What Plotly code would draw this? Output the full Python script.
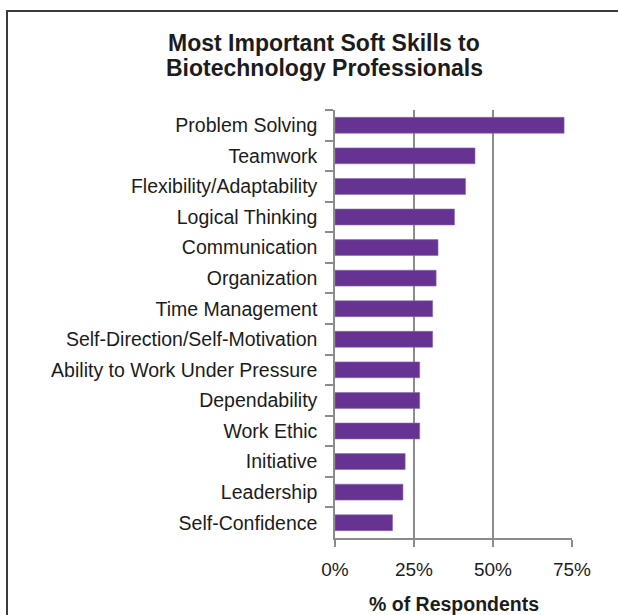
import plotly.graph_objects as go

# Survey results: share of respondents naming each soft skill
skills = [
    "Problem Solving",
    "Teamwork",
    "Flexibility/Adaptability",
    "Logical Thinking",
    "Communication",
    "Organization",
    "Time Management",
    "Self-Direction/Self-Motivation",
    "Ability to Work Under Pressure",
    "Dependability",
    "Work Ethic",
    "Initiative",
    "Leadership",
    "Self-Confidence",
]
share = [0.725, 0.443, 0.413, 0.378, 0.326, 0.320, 0.309, 0.309,
         0.268, 0.268, 0.268, 0.222, 0.215, 0.182]

x_ticks = [0, 0.25, 0.5, 0.75]
x_tick_text = ["0%", "25%", "50%", "75%"]

title_lines = ["Most Important Soft Skills to", "Biotechnology Professionals"]
x_title = "% of Respondents"

W, H = 618, 615
L, R, T, B = 335, 46, 110, 77
pw, ph = W - L - R, H - T - B

font_family = "Liberation Sans, Arial, sans-serif"
text_color = "#1c1c1c"
grid_color = "#8c8c8c"


def px_x(px):
    """Horizontal pixel position -> paper coordinate."""
    return (px - L) / pw


def px_y(py):
    """Vertical pixel position (from top) -> paper coordinate."""
    return ((H - B) - py) / ph


fig = go.Figure(
    go.Bar(
        x=share,
        y=skills,
        orientation="h",
        marker=dict(color="#663392", line=dict(color="#8a6ab3", width=0.6)),
        width=0.52,
        hoverinfo="x+y",
    )
)

annotations = []
# two-line heading, set tighter than the default line spacing
for text, cy in zip(title_lines, [43.5, 68.5]):
    annotations.append(
        dict(
            text=f"<b>{text}</b>",
            x=px_x(324),
            xref="paper",
            xanchor="center",
            y=px_y(cy),
            yref="paper",
            yanchor="middle",
            showarrow=False,
            font=dict(size=23, family=font_family, color=text_color),
        )
    )
annotations.append(
    dict(
        text=f"<b>{x_title}</b>",
        x=0.5,
        xref="paper",
        xanchor="center",
        y=px_y(604),
        yref="paper",
        yanchor="middle",
        showarrow=False,
        font=dict(size=19.5, family=font_family, color=text_color),
    )
)

fig.update_layout(
    width=W,
    height=H,
    margin=dict(l=L, r=R, t=T, b=B, pad=0),
    paper_bgcolor="white",
    plot_bgcolor="white",
    showlegend=False,
    font=dict(family=font_family, color=text_color, size=19),
    xaxis=dict(
        range=[0, 0.75],
        tickvals=x_ticks,
        ticktext=x_tick_text,
        showgrid=True,
        gridcolor=grid_color,
        gridwidth=1.5,
        zeroline=False,
        showline=True,
        linecolor=grid_color,
        linewidth=1.5,
        ticks="outside",
        ticklen=7,
        tickwidth=1.5,
        tickcolor=grid_color,
        ticklabelstandoff=6,
        tickfont=dict(size=19),
        fixedrange=True,
    ),
    yaxis=dict(
        autorange="reversed",
        showgrid=False,
        zeroline=False,
        showline=True,
        linecolor=grid_color,
        linewidth=1.5,
        ticks="outside",
        tickson="boundaries",
        ticklen=8,
        tickwidth=1.5,
        tickcolor=grid_color,
        ticklabelstandoff=12,
        tickfont=dict(size=19.5),
        fixedrange=True,
    ),
    annotations=annotations,
    shapes=[
        # outer chart frame, running off the right and bottom edges
        dict(
            type="rect",
            xref="paper",
            yref="paper",
            x0=px_x(7),
            x1=px_x(W + 10),
            y0=px_y(H + 10),
            y1=px_y(11),
            line=dict(color="#3a3a3a", width=2),
            fillcolor="rgba(0,0,0,0)",
            layer="above",
        )
    ],
)

fig.write_html("out.html", config={"displayModeBar": False})
